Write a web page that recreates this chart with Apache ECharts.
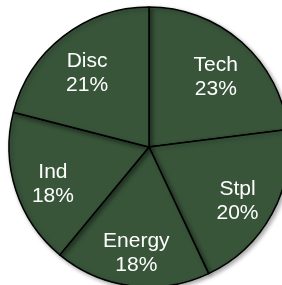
<!DOCTYPE html>
<html>
<head>
<meta charset="utf-8">
<script src="https://cdn.jsdelivr.net/npm/echarts@6/dist/echarts.min.js"></script>
<style>
  html, body { margin: 0; padding: 0; background: #fff; }
  #main { width: 282px; height: 285px; }
</style>
</head>
<body>
<div id="main"></div>
<script>
// 数据
var sectors = ['Tech', 'Stpl', 'Energy', 'Ind', 'Disc'];
var shares = [23, 20, 18, 18, 21];

var pieData = sectors.map(function (name, i) {
  return { name: name, value: shares[i] };
});

var myChart = echarts.init(document.getElementById('main'));
var option = {
  animation: false,
  series: [
    {
      // 底层饼图，只画扇区
      type: 'pie',
      center: [149, 147],
      radius: [0, 140],
      startAngle: 90,
      clockwise: true,
      silent: true,
      label: { show: false },
      labelLine: { show: false },
      itemStyle: {
        color: '#38553a',
        borderColor: '#000',
        borderWidth: 1.5,
        shadowColor: 'rgba(0,0,0,0.35)',
        shadowBlur: 4,
        shadowOffsetX: 2,
        shadowOffsetY: 2
      },
      data: pieData
    },
    {
      // 透明的环，用来把标签放在外侧一些
      type: 'pie',
      center: [149, 153],
      radius: [56, 140],
      startAngle: 90,
      clockwise: true,
      silent: true,
      itemStyle: { color: 'rgba(0,0,0,0)' },
      label: {
        show: true,
        position: 'inside',
        formatter: '{b}\n{c}%',
        color: '#fff',
        fontFamily: 'Liberation Sans',
        fontSize: 21,
        lineHeight: 24
      },
      labelLine: { show: false },
      data: pieData
    }
  ]
};
myChart.setOption(option);
</script>
</body>
</html>
